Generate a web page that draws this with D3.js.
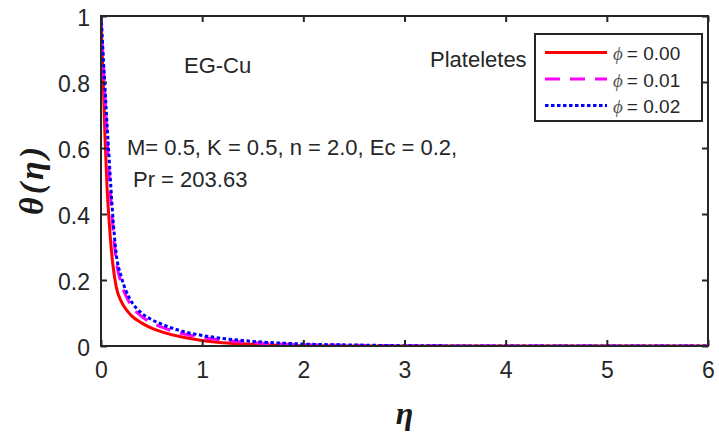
<!DOCTYPE html>
<html>
<head>
<meta charset="utf-8">
<script src="https://cdn.jsdelivr.net/npm/d3@7"></script>
<style>
  html, body { margin: 0; padding: 0; background: #fff; }
  svg { display: block; }
  .tick text { font-family: Arial, "Liberation Sans", sans-serif; fill: #262626; }
</style>
</head>
<body>
<svg id="chart" width="719" height="443"></svg>
<script>
// Similarity variable eta (shared grid for all three profiles)
const eta = [0, 0.01, 0.02, 0.04, 0.06, 0.08, 0.1, 0.12, 0.15, 0.2, 0.25, 0.3, 0.4, 0.5, 0.6, 0.8, 1.0, 1.2, 1.5, 2, 2.5, 3, 4, 5, 6];

// Temperature profiles theta(eta) for each nanoparticle volume fraction
const theta000 = [1, 0.9, 0.82, 0.63, 0.48, 0.38, 0.3, 0.24, 0.18, 0.135, 0.11, 0.092, 0.07, 0.054, 0.043, 0.027, 0.017, 0.01, 0.005, 0.001, 0, 0, 0, 0, 0];
const theta001 = [1, 0.93, 0.87, 0.75, 0.63, 0.52, 0.43, 0.35, 0.26, 0.19, 0.15, 0.122, 0.09, 0.07, 0.057, 0.038, 0.026, 0.018, 0.01, 0.004, 0.002, 0.001, 0, 0, 0];
const theta002 = [1, 0.95, 0.89, 0.78, 0.67, 0.57, 0.47, 0.38, 0.28, 0.21, 0.165, 0.135, 0.1, 0.08, 0.066, 0.045, 0.032, 0.023, 0.014, 0.006, 0.003, 0.001, 0, 0, 0];

const seriesLabels = ["0.00", "0.01", "0.02"];
const xTicks = [0, 1, 2, 3, 4, 5, 6];
const yTicks = [0, 0.2, 0.4, 0.6, 0.8, 1];

const series = [
  { label: seriesLabels[0], values: theta000, color: "#ff0000", dash: null },
  { label: seriesLabels[1], values: theta001, color: "#ff00ff", dash: "15,10" },
  { label: seriesLabels[2], values: theta002, color: "#0000ff", dash: "3.5,2.5" }
];

const svg = d3.select("#chart");
const W = 719, H = 443;
const plot = { left: 101, right: 708, top: 16, bottom: 346 };

svg.append("rect").attr("width", W).attr("height", H).attr("fill", "#fff");

const x = d3.scaleLinear().domain([0, 6]).range([plot.left, plot.right]);
const y = d3.scaleLinear().domain([0, 1]).range([plot.bottom, plot.top]);

const axisColor = "#262626";

// Clip curves to the axes box
svg.append("defs").append("clipPath").attr("id", "plot-clip")
  .append("rect")
  .attr("x", plot.left).attr("y", plot.top - 2)
  .attr("width", plot.right - plot.left).attr("height", plot.bottom - plot.top + 2);

// Curves
const line = d3.line()
  .x(d => x(d[0]))
  .y(d => y(d[1]))
  .curve(d3.curveMonotoneX);

const curves = svg.append("g").attr("clip-path", "url(#plot-clip)");
series.forEach(s => {
  curves.append("path")
    .datum(eta.map((e, i) => [e, s.values[i]]))
    .attr("fill", "none")
    .attr("stroke", s.color)
    .attr("stroke-width", 3)
    .attr("stroke-dasharray", s.dash)
    .attr("d", line);
});

// Axes with inward ticks on all four sides
const fmt = d3.format("");
const bottomAxis = svg.append("g")
  .attr("transform", `translate(0,${plot.bottom})`)
  .call(d3.axisBottom(x).tickValues(xTicks).tickFormat(fmt).tickSize(-6).tickPadding(16));
const leftAxis = svg.append("g")
  .attr("transform", `translate(${plot.left},0)`)
  .call(d3.axisLeft(y).tickValues(yTicks).tickFormat(fmt).tickSize(-6).tickPadding(11));
const topAxis = svg.append("g")
  .attr("transform", `translate(0,${plot.top})`)
  .call(d3.axisTop(x).tickValues(xTicks).tickFormat("").tickSize(-6));
const rightAxis = svg.append("g")
  .attr("transform", `translate(${plot.right},0)`)
  .call(d3.axisRight(y).tickValues(yTicks).tickFormat("").tickSize(-6));

[bottomAxis, leftAxis, topAxis, rightAxis].forEach(g => {
  g.select(".domain").remove();
  g.selectAll(".tick line").attr("stroke", axisColor).attr("stroke-width", 2);
  g.selectAll(".tick text").attr("font-size", 23).attr("fill", axisColor);
});
leftAxis.selectAll(".tick text").attr("dy", "0.43em");

svg.append("rect")
  .attr("x", plot.left).attr("y", plot.top)
  .attr("width", plot.right - plot.left).attr("height", plot.bottom - plot.top)
  .attr("fill", "none").attr("stroke", axisColor).attr("stroke-width", 2);

// Axis titles
svg.append("text")
  .attr("x", (plot.left + plot.right) / 2).attr("y", 424)
  .attr("text-anchor", "middle")
  .attr("font-family", "'Liberation Serif', 'DejaVu Serif', serif")
  .attr("font-style", "italic").attr("font-weight", "bold")
  .attr("font-size", 32).attr("fill", "#1a1a1a")
  .text("η");

svg.append("text")
  .attr("transform", `translate(43,${(plot.top + plot.bottom) / 2}) rotate(-90)`)
  .attr("text-anchor", "middle")
  .attr("font-family", "'Liberation Serif', 'DejaVu Serif', serif")
  .attr("font-style", "italic").attr("font-weight", "bold")
  .attr("font-size", 34).attr("fill", "#1a1a1a")
  .attr("textLength", 68).attr("lengthAdjust", "spacing")
  .text("θ(η)");

// Annotations
const notes = [
  { text: "EG-Cu", x: 184, y: 73 },
  { text: "Plateletes", x: 430, y: 67 },
  { text: "M= 0.5, K = 0.5, n = 2.0, Ec = 0.2,", x: 127, y: 155 },
  { text: "Pr = 203.63", x: 133, y: 187 }
];
svg.append("g").selectAll("text").data(notes).join("text")
  .attr("x", d => d.x).attr("y", d => d.y)
  .attr("font-family", "Arial, 'Liberation Sans', sans-serif")
  .attr("font-size", 22).attr("fill", axisColor)
  .text(d => d.text);

// Legend
const legend = svg.append("g");
legend.append("rect")
  .attr("x", 535).attr("y", 34).attr("width", 167).attr("height", 87)
  .attr("fill", "#fff").attr("stroke", axisColor).attr("stroke-width", 2);

const rowY = d3.scalePoint().domain(seriesLabels).range([52.5, 105.5]);
series.forEach(s => {
  const ry = rowY(s.label);
  legend.append("line")
    .attr("x1", 545).attr("x2", 607).attr("y1", ry).attr("y2", ry)
    .attr("stroke", s.color).attr("stroke-width", 3)
    .attr("stroke-dasharray", s.dash);
  const t = legend.append("text")
    .attr("x", 613).attr("y", ry + 7.5)
    .attr("font-family", "Arial, 'Liberation Sans', sans-serif")
    .attr("font-size", 19).attr("fill", axisColor);
  t.append("tspan")
    .attr("font-family", "'Liberation Serif', 'DejaVu Serif', serif")
    .attr("font-style", "italic").attr("fill", "#555")
    .text("ϕ");
  t.append("tspan").attr("dx", 4).text("= " + s.label);
});
</script>
</body>
</html>
